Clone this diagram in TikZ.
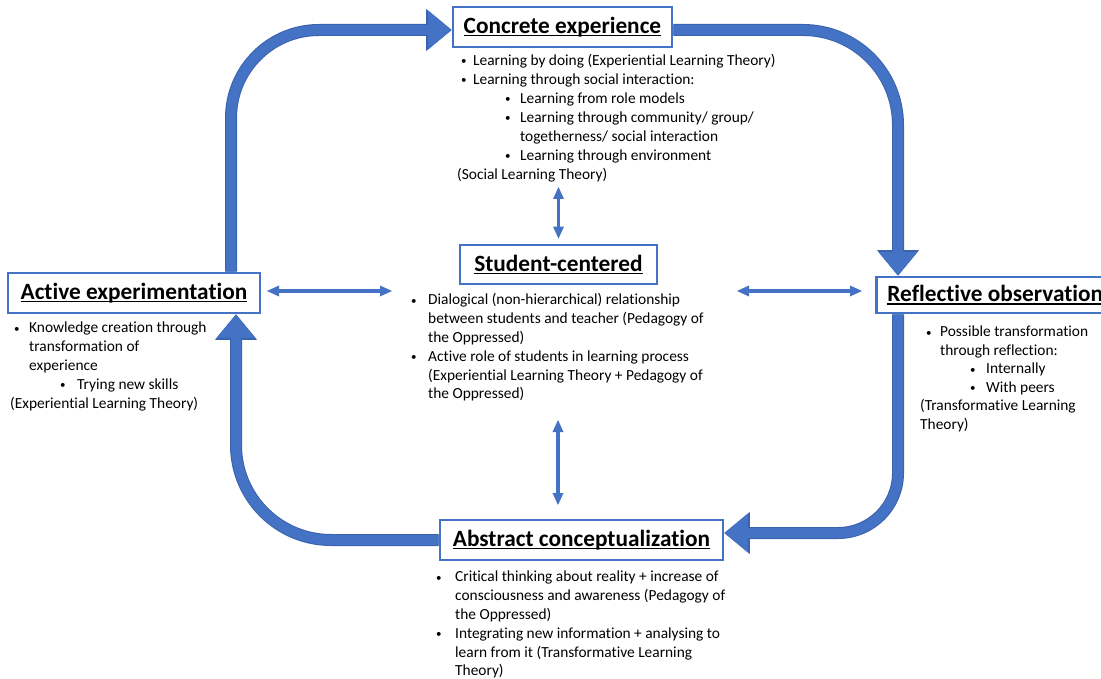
\documentclass[tikz,border=0pt]{standalone}
\usepackage{fontspec}
\setmainfont{Carlito}[Ligatures=NoCommon]
\usetikzlibrary{arrows.meta,calc}
\definecolor{obl}{HTML}{4472C4}
\definecolor{obd}{HTML}{3A62AD}
\newcommand{\bdot}{\raisebox{0.6pt}{\fontsize{11}{11}\selectfont •}}
\newcommand{\bl}[2]{\hspace*{#1pt}\makebox[#2pt][l]{\bdot}}
\newcommand{\uln}[1]{\leavevmode\setbox0\hbox{#1}\rlap{\rule[-3pt]{\wd0}{1.6pt}}\box0}
\begin{document}
\begin{tikzpicture}[x=1pt,y=-1pt,
  titlebox/.style={draw=obl, line width=2.8pt, fill=white, inner sep=0pt, minimum height=40pt, font=\fontsize{23.3}{28}\selectfont\bfseries},
  body/.style={anchor=north west, inner sep=0pt, align=left, font=\fontsize{15.4}{18.8}\selectfont},
  bigarrow/.style={draw=obl, line width=10pt, -{Triangle[width=39pt,length=23.5pt,line width=0pt]},
    preaction={draw=obd, line width=12pt, -{Triangle[width=42pt,length=25.5pt,line width=0pt]}}},
  dbl/.style={draw=obl, line width=3.5pt, {Triangle[width=11pt,length=12pt,line width=0pt]}-{Triangle[width=11pt,length=12pt,line width=0pt]}},
]
\fill[white] (0,0) rectangle (1101,679);
\useasboundingbox (0,0) rectangle (1101,679);

% title boxes
\node[titlebox, minimum width=219pt] (ce) at (562.5,27) {\uln{Concrete experience}};
\node[titlebox, minimum width=197pt, minimum height=39pt] (sc) at (558.5,264.5) {\uln{Student-centered}};
\node[titlebox, minimum width=252pt] (ae) at (134,293) {\uln{Active experimentation}};
\node[titlebox, minimum height=36pt, anchor=west, inner xsep=11pt] (ro) at (875,295) {\uln{Reflective observation}};
\node[titlebox, minimum width=283pt] (ac) at (581.5,540) {\uln{Abstract conceptualization}};

% text blocks
\node[body, font=\fontsize{15.4}{19}\selectfont] (cet) at (457,51.6) {\strut\bl{4}{12}Learning by doing (Experiential Learning Theory)\\
\bl{4}{12}Learning through social interaction:\\
\bl{48}{15}Learning from role models\\
\bl{48}{15}Learning through community/ group/\\
\hspace*{63pt}togetherness/ social interaction\\
\bl{48}{15}Learning through environment\\
(Social Learning Theory)};

\node[body] (sct) at (411,291.6) {\strut\bl{0}{17}Dialogical (non-hierarchical) relationship\\
\hspace*{17pt}between students and teacher (Pedagogy of\\
\hspace*{17pt}the Oppressed)\\
\bl{0}{17}Active role of students in learning process\\
\hspace*{17pt}(Experiential Learning Theory + Pedagogy of\\
\hspace*{17pt}the Oppressed)};

\node[body] (aet) at (10,319.6) {\strut\bl{4}{15}Knowledge creation through\\
\hspace*{19pt}transformation of\\
\hspace*{19pt}experience\\
\bl{50}{17}Trying new skills\\
(Experiential Learning Theory)};

\node[body, font=\fontsize{15.4}{18.5}\selectfont] (rot) at (920,323.6) {\strut\bl{6}{14}Possible transformation\\
\hspace*{20pt}through reflection:\\
\bl{50}{16}Internally\\
\bl{50}{16}With peers\\
(Transformative Learning\\
Theory)};

\node[body] (act) at (436,568.6) {\strut\bl{0}{19}Critical thinking about reality + increase of\\
\hspace*{19pt}consciousness and awareness (Pedagogy of\\
\hspace*{19pt}the Oppressed)\\
\bl{0}{19}Integrating new information + analysing to\\
\hspace*{19pt}learn from it (Transformative Learning\\
\hspace*{19pt}Theory)};

% cycle arrows
\coordinate (lx) at (231,0);
\coordinate (lx2) at (236,0);
\coordinate (rx) at (898,0);
\coordinate (by) at (0,533);
\draw[bigarrow, rounded corners=88pt] (ae.north -| lx) |- ([yshift=-3pt]ce.west);
\draw[bigarrow, rounded corners=95pt] ([yshift=-3pt]ce.east) -| (ro.north -| rx);
\draw[bigarrow, rounded corners=60pt] (ro.south -| rx) |- (ac.east |- by);
\draw[bigarrow, rounded corners=95pt] (ac.west) -| (ae.south -| lx2);

% double arrows
\coordinate (sl1) at (267,291);
\coordinate (sl2) at (392,291);
\coordinate (sr1) at (737,291);
\coordinate (sr2) at (862,291);
\coordinate (v1) at (558.5,187);
\coordinate (v2) at (558,420);
\coordinate (v3) at (558,505);
\draw[dbl] (sl1) -- (sl2);
\draw[dbl] (sr1) -- (sr2);
\draw[dbl] (v1) -- ([yshift=5pt]sc.north);
\draw[dbl] (v2) -- (v3);
\end{tikzpicture}
\end{document}
